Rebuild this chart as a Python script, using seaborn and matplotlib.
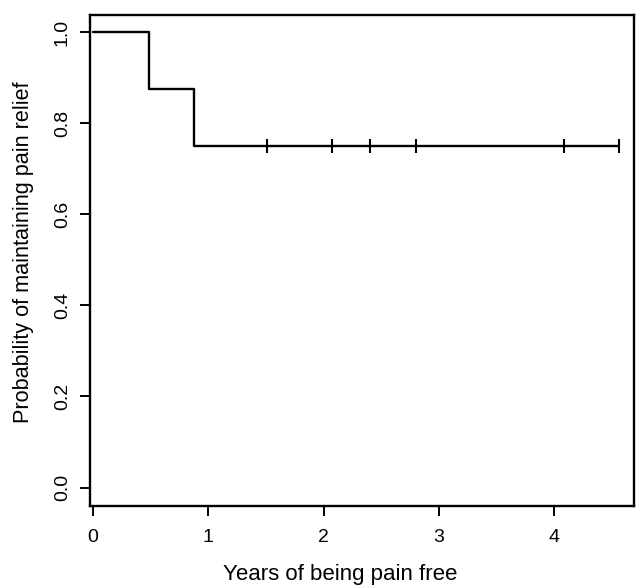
import seaborn as sns
import matplotlib.pyplot as plt
import pandas as pd

# tiempos (anos) y probabilidad de la curva de Kaplan-Meier
step_times = [0.0, 0.49, 0.876, 4.56]
step_surv = [1.0, 0.875, 0.75, 0.75]
# tiempos censurados
censor_times = [1.51, 2.07, 2.40, 2.80, 4.08, 4.56]
censor_surv = [0.75, 0.75, 0.75, 0.75, 0.75, 0.75]

sns.set_style("ticks")
plt.rcParams['font.family'] = ['Liberation Sans', 'DejaVu Sans']

steps = pd.DataFrame({"t": step_times, "s": step_surv})
cens = pd.DataFrame({"t": censor_times, "s": censor_surv})

fig, ax = plt.subplots(figsize=(6.36, 5.86), dpi=100)
fig.subplots_adjust(left=0.142, right=0.997, top=0.974, bottom=0.137)

sns.lineplot(x="t", y="s", data=steps, drawstyle="steps-post", color="black",
             linewidth=1.7, ax=ax)
sns.scatterplot(x="t", y="s", data=cens, marker="|", s=110, color="black",
                linewidth=1.5, ax=ax)

ax.set_xlim(-0.02, 4.69)
ax.set_ylim(-0.04, 1.037)
ax.set_xticks([0, 1, 2, 3, 4])
ax.set_yticks([0.0, 0.2, 0.4, 0.6, 0.8, 1.0])
ax.set_yticklabels(["0.0", "0.2", "0.4", "0.6", "0.8", "1.0"], rotation=90, va="center")
ax.tick_params(axis="both", length=7, width=1.4, labelsize=14, color="black",
               labelcolor="black", pad=7)
ax.tick_params(axis="x", pad=10)
for sp in ax.spines.values():
    sp.set_linewidth(1.7)
    sp.set_color("black")

ax.set_xlabel("Years of being pain free", fontsize=16, color="black")
ax.set_ylabel("Probability of maintaining pain relief", fontsize=15.6, color="black")
ax.xaxis.set_label_coords(0.459, -0.119)
ax.yaxis.set_label_coords(-0.103, 0.517)

fig.savefig("out.png", dpi=100)
